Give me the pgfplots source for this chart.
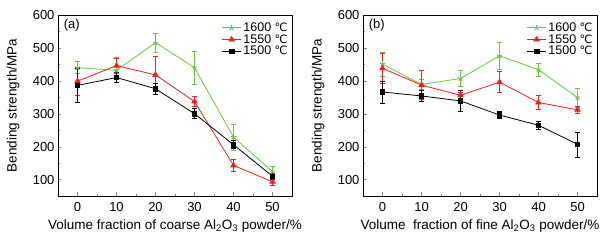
\documentclass[border=0pt]{standalone}
\usepackage{pgfplots}
\pgfplotsset{compat=1.18}
\usepackage{fontspec}
\setmainfont{Liberation Sans}
\newfontfamily\dejavu{DejaVu Sans}
\definecolor{cgreen}{RGB}{108,196,66}
\definecolor{cred}{RGB}{240,30,30}
\newcommand{\degC}{{\dejavu\fontsize{11.5}{13}\selectfont ℃}}
\pgfplotsset{
  myax/.style={
    scale only axis, width=234pt, height=181pt,
    xmin=-5, xmax=55, ymin=50, ymax=600,
    xtick={0,10,20,30,40,50}, ytick={100,200,300,400,500,600},
    minor xtick={5,15,25,35,45}, minor ytick={150,250,350,450,550},
    tick align=inside, xtick pos=bottom, ytick pos=left,
    major tick length=3.5pt, minor tick length=2pt,
    /pgf/number format/assume math mode=true,
    tick label style={font=\fontsize{13}{14}\selectfont},
    xticklabel style={yshift=-2.5pt},
    label style={font=\fontsize{13.5}{15}\selectfont},
    ylabel={Bending strength/MPa},
    ylabel style={at={(axis description cs:-0.192,0.5)}, anchor=center},
    xlabel style={at={(axis description cs:0.5,-0.166)}, anchor=center},
    legend style={draw=none, fill=none, at={(0.995,0.975)}, anchor=north east,
      font=\fontsize{12.5}{13}\selectfont, row sep=-2.5pt, inner sep=1pt},
    legend cell align=left,
    legend image post style={xscale=1.1},
    every axis plot/.append style={line width=0.8pt, mark size=2.8pt,
      error bars/y dir=both, error bars/y explicit,
      error bars/error mark options={rotate=90, mark size=2.6pt, line width=0.6pt}},
  },
  g/.style={color=cgreen, mark=star, mark options={line width=0.9pt}},
  r/.style={color=cred, mark=triangle*, mark size=3pt},
  k/.style={color=black, mark=square*, mark size=2.3pt},
}
\begin{document}
\begin{tikzpicture}
\begin{axis}[myax, at={(58pt,45pt)}, anchor=south west,
  xlabel={Volume fraction of coarse Al\textsubscript{2}O\textsubscript{3} powder/\%}]
\addplot[g] coordinates {(0,440) +- (0,18) (10,432) +- (0,38) (20,516) +- (0,28) (30,440) +- (0,50) (40,229) +- (0,40) (50,124) +- (0,16)};
\addlegendentry{1600 \degC}
\addplot[r] coordinates {(0,399) +- (0,42) (10,446) +- (0,22) (20,418) +- (0,58) (30,337) +- (0,15) (40,143) +- (0,17) (50,93) +- (0,9)};
\addlegendentry{1550 \degC}
\addplot[k] coordinates {(0,386) +- (0,52) (10,410) +- (0,15) (20,376) +- (0,17) (30,300) +- (0,15) (40,206) +- (0,12) (50,110) +- (0,8)};
\addlegendentry{1500 \degC}
\node[anchor=north west, font=\fontsize{13}{14}\selectfont] at (rel axis cs:0.01,0.995) {(a)};
\end{axis}
\begin{axis}[myax, at={(363pt,45pt)}, anchor=south west,
  xlabel={Volume\ \ fraction of fine Al\textsubscript{2}O\textsubscript{3} powder/\%}]
\addplot[g] coordinates {(0,451) +- (0,36) (10,389) +- (0,15) (20,407) +- (0,25) (30,476) +- (0,40) (40,434) +- (0,19) (50,349) +- (0,28)};
\addlegendentry{1600 \degC}
\addplot[r] coordinates {(0,438) +- (0,45) (10,387) +- (0,44) (20,356) +- (0,10) (30,396) +- (0,32) (40,334) +- (0,22) (50,312) +- (0,12)};
\addlegendentry{1550 \degC}
\addplot[k] coordinates {(0,366) +- (0,34) (10,354) +- (0,16) (20,339) +- (0,32) (30,296) +- (0,11) (40,265) +- (0,12) (50,207) +- (0,38)};
\addlegendentry{1500 \degC}
\node[anchor=north west, font=\fontsize{13}{14}\selectfont] at (rel axis cs:0.01,0.995) {(b)};
\end{axis}
\pgfresetboundingbox
\path[use as bounding box] (0,0) rectangle (611pt,241pt);
\end{tikzpicture}
\end{document}
